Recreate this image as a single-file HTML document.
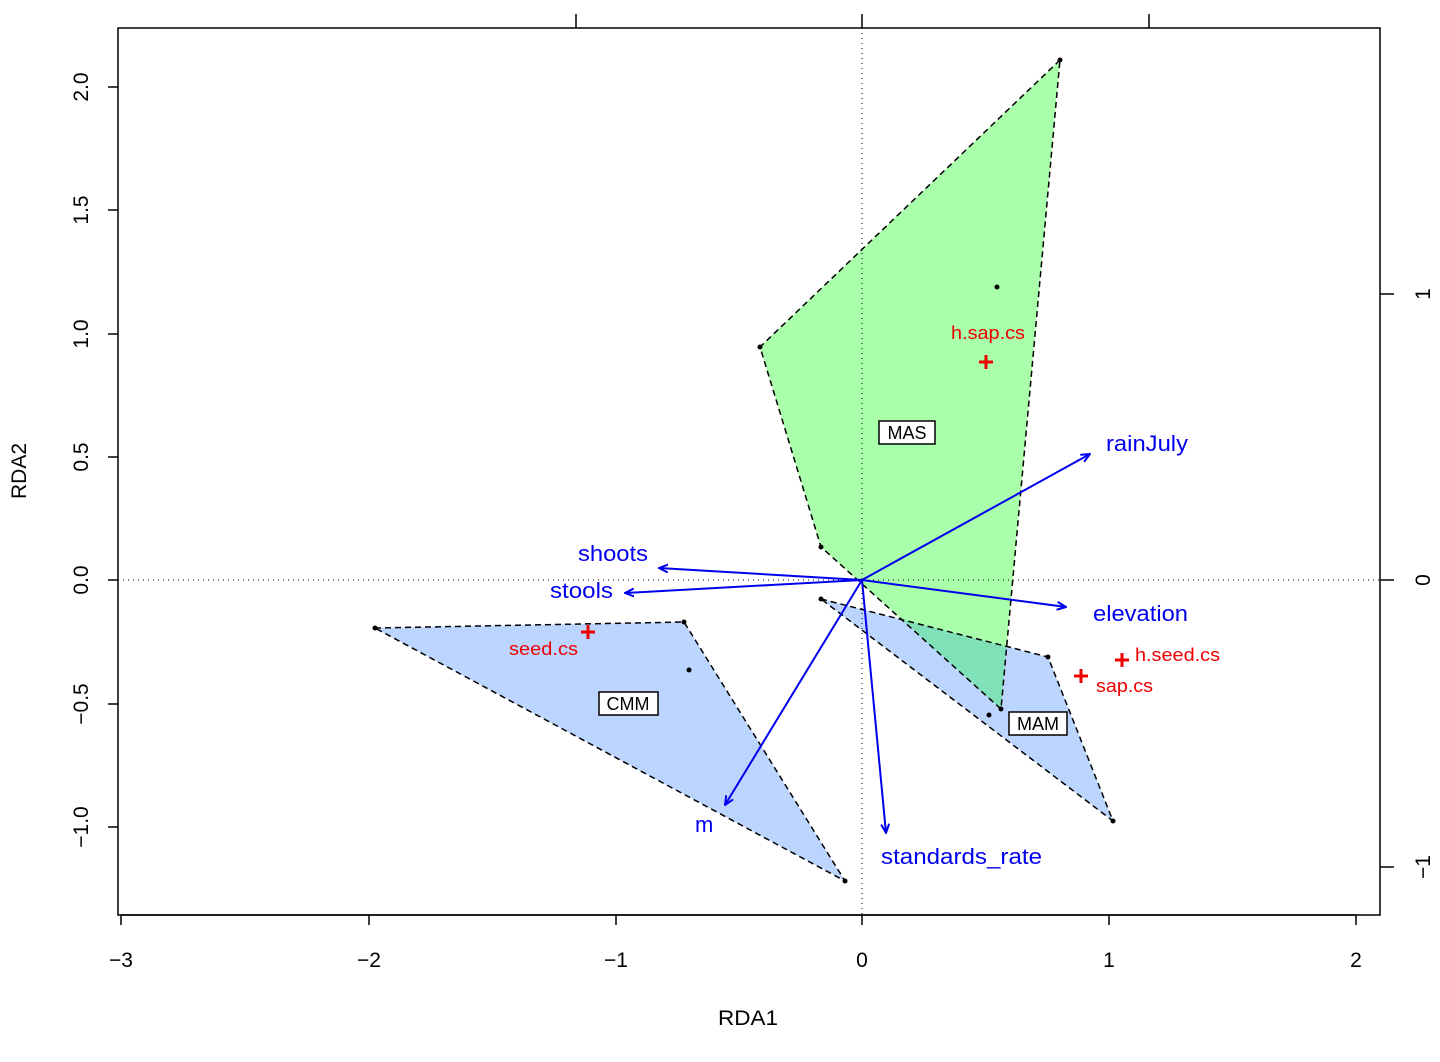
<!DOCTYPE html>
<html><head><style>body{margin:0;background:#fff}svg{display:block}</style></head><body>
<svg width="1440" height="1062" xmlns="http://www.w3.org/2000/svg" font-family="Liberation Sans, sans-serif">
<defs><marker id="ah" markerWidth="10" markerHeight="10" refX="9" refY="5" orient="auto" markerUnits="userSpaceOnUse"><path d="M0,1 L9,5 L0,9" fill="none" stroke="#0000ee" stroke-width="2"/></marker></defs>
<polygon points="1060,60 760,347 821,547 1001,709" fill="#aaffaa"/>
<polygon points="821,599 1048,657 1113,821" fill="#bbd5ff"/>
<polygon points="901.7,619.6 1006.5,646.4 1001,709" fill="#80e0b8"/>
<g fill="none" stroke="#000" stroke-width="1.5" stroke-dasharray="6,4">
<polygon points="1060,60 760,347 821,547 1001,709"/>
<polygon points="821,599 1048,657 1113,821"/></g>
<polygon points="375,628 684,622 845,881" fill="#bbd5ff" stroke="#000" stroke-width="1.5" stroke-dasharray="6,4"/>
<line x1="862" y1="28" x2="862" y2="915" stroke="#000" stroke-dasharray="1,4"/>
<line x1="118" y1="580" x2="1380" y2="580" stroke="#000" stroke-dasharray="1,4"/>
<g fill="#000"><circle cx="1060" cy="60" r="2.5"/><circle cx="760" cy="347" r="2.5"/><circle cx="821" cy="547" r="2.5"/><circle cx="1001" cy="709" r="2.5"/><circle cx="997" cy="287" r="2.5"/><circle cx="989" cy="715" r="2.5"/><circle cx="821" cy="599" r="2.5"/><circle cx="1048" cy="657" r="2.5"/><circle cx="1113" cy="821" r="2.5"/><circle cx="375" cy="628" r="2.5"/><circle cx="684" cy="622" r="2.5"/><circle cx="845" cy="881" r="2.5"/><circle cx="689" cy="670" r="2.5"/></g>
<g stroke="#0000ee" stroke-width="2" marker-end="url(#ah)">
<line x1="862" y1="580" x2="659" y2="568"/><line x1="862" y1="580" x2="625" y2="593"/><line x1="862" y1="580" x2="1090" y2="454"/><line x1="862" y1="580" x2="1066" y2="607"/><line x1="862" y1="580" x2="725" y2="805"/><line x1="862" y1="580" x2="886" y2="833"/></g>
<g fill="#0000ee" font-size="22"><text x="578" y="561" textLength="70" lengthAdjust="spacingAndGlyphs">shoots</text><text x="550" y="598" textLength="63" lengthAdjust="spacingAndGlyphs">stools</text><text x="1106" y="451" textLength="82" lengthAdjust="spacingAndGlyphs">rainJuly</text><text x="1093" y="621" textLength="95" lengthAdjust="spacingAndGlyphs">elevation</text><text x="695" y="832">m</text><text x="881" y="864" textLength="161" lengthAdjust="spacingAndGlyphs">standards_rate</text></g>
<g stroke="#ee0000" stroke-width="3"><path d="M979,362h14M986,355v14"/><path d="M581,632h14M588,625v14"/><path d="M1074,676h14M1081,669v14"/><path d="M1115,660h14M1122,653v14"/></g>
<g fill="#ee0000" font-size="18"><text x="951" y="339" textLength="74" lengthAdjust="spacingAndGlyphs">h.sap.cs</text><text x="509" y="655" textLength="69" lengthAdjust="spacingAndGlyphs">seed.cs</text><text x="1096" y="692" textLength="57" lengthAdjust="spacingAndGlyphs">sap.cs</text><text x="1135" y="661" textLength="85" lengthAdjust="spacingAndGlyphs">h.seed.cs</text></g>
<g font-size="18"><rect x="879" y="421" width="56" height="23" fill="#fff" stroke="#000" stroke-width="1.5"/><text x="907" y="439" text-anchor="middle">MAS</text>
<rect x="599" y="692" width="59" height="23" fill="#fff" stroke="#000" stroke-width="1.5"/><text x="628" y="710" text-anchor="middle">CMM</text>
<rect x="1009" y="712" width="58" height="23" fill="#fff" stroke="#000" stroke-width="1.5"/><text x="1038" y="730" text-anchor="middle">MAM</text></g>
<rect x="118" y="28" width="1262" height="887" fill="none" stroke="#000" stroke-width="1.5"/>
<g stroke="#000" stroke-width="1.5"><path d="M121,915v10M369,915v10M616,915v10M862,915v10M1109,915v10M1356,915v10M121,915H1356"/>
<path d="M118,87h-10M118,210h-10M118,334h-10M118,457h-10M118,580h-10M118,704h-10M118,827h-10"/>
<path d="M576,28v-14M862,28v-14M1149,28v-14"/><path d="M1380,294h14M1380,580h14M1380,867h14"/></g>
<g font-size="21" text-anchor="middle"><text x="121" y="967">−3</text><text x="369" y="967">−2</text><text x="616" y="967">−1</text><text x="862" y="967">0</text><text x="1109" y="967">1</text><text x="1356" y="967">2</text><text x="748" y="1025" textLength="60" lengthAdjust="spacingAndGlyphs">RDA1</text></g>
<g font-size="21" text-anchor="middle">
<text transform="translate(88,87) rotate(-90)">2.0</text><text transform="translate(88,210) rotate(-90)">1.5</text><text transform="translate(88,334) rotate(-90)">1.0</text><text transform="translate(88,457) rotate(-90)">0.5</text><text transform="translate(88,580) rotate(-90)">0.0</text><text transform="translate(88,704) rotate(-90)">−0.5</text><text transform="translate(88,827) rotate(-90)">−1.0</text><text transform="translate(26,471) rotate(-90)">RDA2</text>
<text transform="translate(1430,294) rotate(-90)">1</text><text transform="translate(1430,580) rotate(-90)">0</text><text transform="translate(1430,867) rotate(-90)">−1</text></g>
</svg></body></html>
